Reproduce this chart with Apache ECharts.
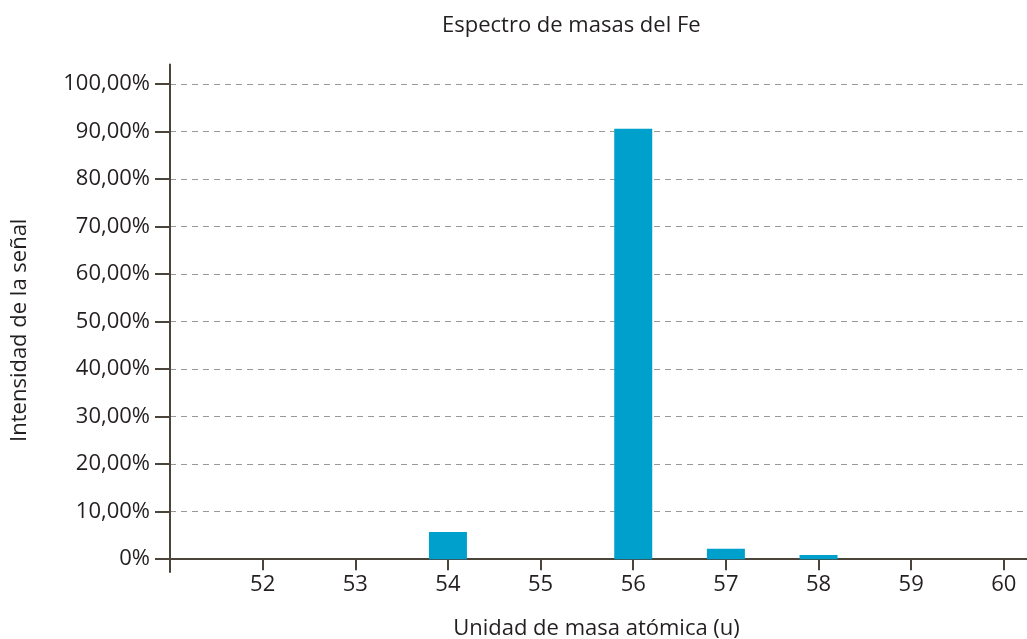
<!DOCTYPE html>
<html lang="es">
<head>
    <meta charset="UTF-8">
    <title>Espectro de masas del Fe</title>
    <script src="https://cdn.jsdelivr.net/npm/echarts@6/dist/echarts.min.js"></script>
    <style>
        html, body { margin: 0; padding: 0; background: #fff; }
    </style>
</head>
<body>
<div id="main" style="width: 1027px;height: 639px;"></div>
<script type="text/javascript">
    // datos
    var masas = [54, 56, 57, 58];
    var intensidad = [5.7, 90.6, 2.2, 0.9];
    var xTicks = [52, 53, 54, 55, 56, 57, 58, 59, 60];
    var yTicks = [0, 10, 20, 30, 40, 50, 60, 70, 80, 90, 100];

    var ejeColor = '#4a443a';
    var textoColor = '#231f20';
    var fuente = 'Open Sans';

    var myChart = echarts.init(document.getElementById('main'));

    var datos = [];
    for (var i = 0; i < masas.length; i++) {
        datos.push([masas[i], intensidad[i]]);
    }

    myChart.setOption({
        animation: false,
        title: {
            text: 'Espectro de masas del Fe',
            left: 437,
            top: 10,
            textStyle: {
                color: textoColor,
                fontFamily: fuente,
                fontWeight: 'normal',
                fontSize: 22
            }
        },
        grid: {
            left: 170,
            right: 0,
            top: 64.5,
            bottom: 67,
            outerBoundsMode: 'none',
            containLabel: false
        },
        xAxis: {
            type: 'value',
            min: 51,
            max: 60.25,
            name: 'Unidad de masa atómica (u)',
            nameLocation: 'middle',
            nameGap: 46,
            nameMoveOverlap: false,
            nameTextStyle: {
                color: textoColor,
                fontFamily: fuente,
                fontSize: 22,
                padding: [0, 4, 0, 0]
            },
            axisLine: {
                onZero: true,
                lineStyle: { color: ejeColor, width: 2 }
            },
            axisTick: {
                show: true,
                length: 11,
                customValues: xTicks,
                lineStyle: { color: ejeColor, width: 2 }
            },
            axisLabel: {
                customValues: xTicks,
                color: textoColor,
                fontFamily: fuente,
                fontSize: 22,
                margin: 2
            },
            splitLine: { show: false }
        },
        yAxis: {
            type: 'value',
            min: -2.7,
            max: 104.1,
            name: 'Intensidad de la señal',
            nameLocation: 'middle',
            nameGap: 139,
            nameMoveOverlap: false,
            nameTextStyle: {
                color: textoColor,
                fontFamily: fuente,
                fontSize: 22,
                padding: [0, 24, 0, 0]
            },
            axisLine: {
                show: true,
                lineStyle: { color: ejeColor, width: 2 }
            },
            axisTick: {
                show: true,
                length: 15,
                customValues: yTicks,
                lineStyle: { color: ejeColor, width: 2 }
            },
            axisLabel: {
                customValues: yTicks,
                color: textoColor,
                fontFamily: fuente,
                fontSize: 22,
                margin: 20,
                formatter: function (v) {
                    if (v === 0) return '0%';
                    return v.toFixed(2).replace('.', ',') + '%';
                }
            },
            splitLine: {
                show: true,
                lineStyle: { color: '#999', type: [6, 5], width: 1.2 }
            }
        },
        series: [{
            type: 'bar',
            data: datos,
            barWidth: 38,
            itemStyle: { color: '#00a0cd' }
        }]
    });
</script>
</body>
</html>
